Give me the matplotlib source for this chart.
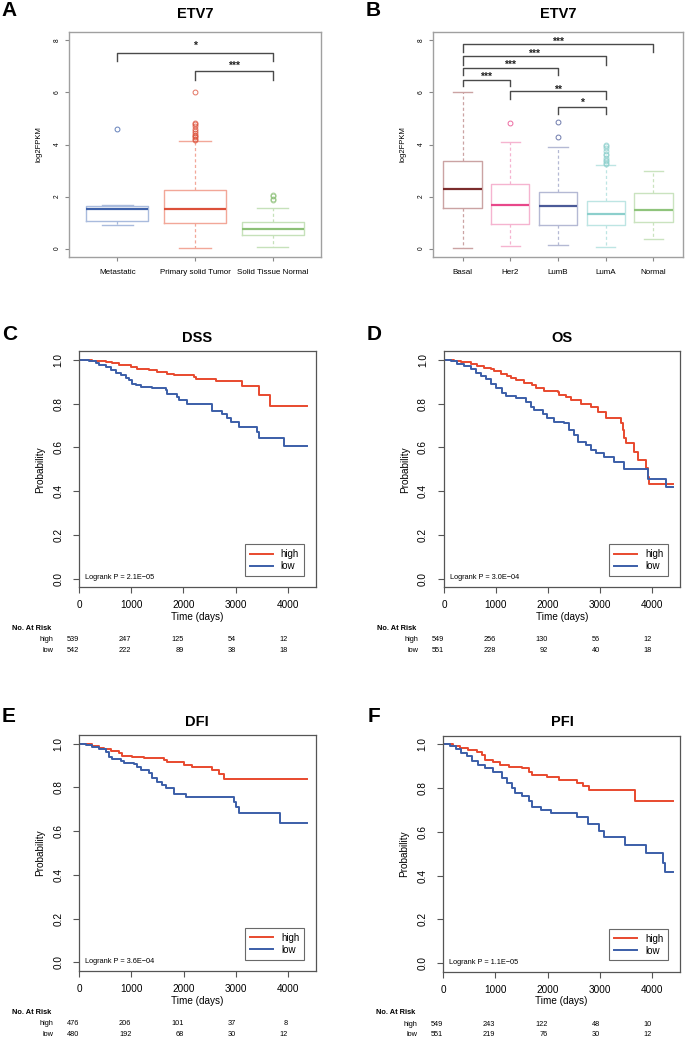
import matplotlib
matplotlib.use('Agg')
import matplotlib.pyplot as plt
from matplotlib.lines import Line2D
from matplotlib.transforms import blended_transform_factory

plt.rcParams['font.family'] = ['Liberation Sans', 'DejaVu Sans']

W, H = 685, 1038
fig = plt.figure(figsize=(W / 100, H / 100), dpi=100)

# ---------------- data: boxplots ----------------
a_groups = ['Metastatic', 'Primary solid Tumor', 'Solid Tissue Normal']
a_q1 = [1.05, 0.98, 0.53]
a_med = [1.52, 1.52, 0.77]
a_q3 = [1.62, 2.25, 1.03]
a_lo = [0.90, 0.03, 0.07]
a_hi = [1.67, 4.15, 1.58]
a_out = [[4.58],
         [4.18, 4.22, 4.27, 4.32, 4.38, 4.45, 4.52, 4.60, 4.70, 4.78, 4.83, 6.02],
         [1.85, 1.92, 2.02, 2.08]]
a_edge = ['#a9bbdd', '#f2a798', '#c6e1ba']
a_medc = ['#3f62aa', '#dc5039', '#8cc077']
# brackets: (from, to, top, tip, label, label y)
a_brackets = [(1, 3, 7.53, 7.19, '*', 7.90),
              (2, 3, 6.82, 6.47, '***', 7.14)]

b_groups = ['Basal', 'Her2', 'LumB', 'LumA', 'Normal']
b_q1 = [1.57, 0.95, 0.92, 0.92, 1.03]
b_med = [2.28, 1.68, 1.62, 1.32, 1.50]
b_q3 = [3.38, 2.48, 2.18, 1.83, 2.15]
b_lo = [0.03, 0.12, 0.13, 0.05, 0.38]
b_hi = [6.03, 4.08, 3.92, 3.20, 2.97]
b_out = [[], [4.82], [4.27, 4.85],
         [3.25, 3.30, 3.35, 3.42, 3.50, 3.58, 3.65, 3.75, 3.85, 3.95, 4.00],
         []]
b_edge = ['#cba3a3', '#f5b4d0', '#b4b9d4', '#bde5e3', '#cae3bf']
b_medc = ['#7b2c2c', '#e8478a', '#4b5a98', '#8ccfcc', '#8fc47c']
b_brackets = [(1, 5, 7.87, 7.55, '***', 8.06),
              (1, 4, 7.39, 7.07, '***', 7.60),
              (1, 3, 6.92, 6.68, '***', 7.17),
              (1, 2, 6.49, 6.23, '***', 6.72),
              (2, 4, 6.04, 5.75, '**', 6.22),
              (3, 4, 5.44, 5.18, '*', 5.72)]

# ---------------- data: Kaplan-Meier ----------------
c_high_t = [0, 250, 505, 633, 761, 985, 1113, 1337, 1497, 1689, 1817, 2201, 2233, 2617, 3129, 3449, 3653]
c_high_s = [1.0, 0.995, 0.99, 0.985, 0.979, 0.968, 0.957, 0.953, 0.945, 0.938, 0.93, 0.922, 0.915, 0.903, 0.881, 0.842, 0.79]
c_low_t = [0, 186, 313, 377, 505, 601, 697, 793, 889, 953, 1017, 1081, 1177, 1401, 1657, 1689, 1881, 1913,
           2073, 2553, 2745, 2841, 2905, 3065, 3417, 3449, 3929]
c_low_s = [1.0, 0.995, 0.986, 0.976, 0.968, 0.953, 0.942, 0.933, 0.918, 0.907, 0.892, 0.884, 0.877, 0.872, 0.862,
           0.843, 0.831, 0.816, 0.798, 0.765, 0.752, 0.733, 0.715, 0.695, 0.672, 0.641, 0.608]
c_end = 4376

d_high_t = [0, 193, 321, 514, 642, 771, 899, 963, 1092, 1220, 1285, 1381, 1541, 1702, 1766, 1927, 2184, 2216, 2344,
            2441, 2633, 2826, 2954, 3115, 3404, 3436, 3468, 3500, 3661, 3725, 3886, 3931, 3950]
d_high_s = [1.0, 0.995, 0.991, 0.983, 0.973, 0.965, 0.957, 0.948, 0.938, 0.927, 0.918, 0.909, 0.897, 0.885, 0.872,
            0.857, 0.854, 0.842, 0.831, 0.816, 0.798, 0.786, 0.763, 0.733, 0.71, 0.679, 0.641, 0.619, 0.581, 0.543,
            0.505, 0.467, 0.432]
d_low_t = [0, 128, 257, 385, 514, 610, 706, 803, 899, 995, 1124, 1188, 1381, 1574, 1670, 1734, 1895, 1991, 2119,
           2312, 2408, 2505, 2569, 2730, 2826, 2922, 3083, 3276, 3468, 3931, 4271]
d_low_s = [1.0, 0.994, 0.983, 0.973, 0.957, 0.942, 0.927, 0.912, 0.892, 0.872, 0.847, 0.836, 0.824, 0.809, 0.786,
           0.771, 0.755, 0.733, 0.717, 0.71, 0.679, 0.657, 0.626, 0.611, 0.588, 0.573, 0.558, 0.535, 0.502, 0.454,
           0.421]
d_end = 4399

e_high_t = [0, 122, 250, 377, 474, 601, 761, 825, 1017, 1241, 1625, 1689, 2009, 2169, 2553, 2681, 2777]
e_high_s = [1.0, 0.997, 0.989, 0.982, 0.974, 0.968, 0.959, 0.944, 0.941, 0.936, 0.925, 0.915, 0.905, 0.892, 0.88,
            0.861, 0.84]
e_low_t = [0, 122, 250, 377, 505, 569, 633, 793, 857, 1049, 1113, 1177, 1337, 1401, 1497, 1593, 1657, 1817, 2041,
           2969, 3001, 3065, 3853]
e_low_s = [1.0, 0.994, 0.983, 0.974, 0.963, 0.941, 0.928, 0.922, 0.913, 0.907, 0.895, 0.88, 0.864, 0.841, 0.826,
           0.811, 0.796, 0.77, 0.758, 0.735, 0.709, 0.681, 0.636]
e_end = 4376

f_high_t = [0, 187, 316, 477, 639, 735, 800, 961, 1090, 1252, 1510, 1639, 1703, 1994, 2219, 2574, 2671, 2800, 3671]
f_high_s = [1.0, 0.991, 0.982, 0.973, 0.965, 0.953, 0.927, 0.918, 0.907, 0.896, 0.892, 0.876, 0.861, 0.853, 0.838,
            0.823, 0.808, 0.792, 0.739]
f_low_t = [0, 123, 252, 348, 445, 542, 671, 800, 961, 1123, 1219, 1316, 1381, 1510, 1639, 1703, 1865, 2058, 2574,
           2768, 2994, 3090, 3477, 3884, 4219, 4252]
f_low_s = [1.0, 0.994, 0.979, 0.963, 0.948, 0.922, 0.907, 0.892, 0.876, 0.846, 0.823, 0.8, 0.777, 0.762, 0.739,
           0.716, 0.701, 0.685, 0.67, 0.637, 0.606, 0.576, 0.54, 0.502, 0.456, 0.414]
f_end = 4400

risk_times = [0, 1000, 2000, 3000, 4000]
c_risk_high = [539, 247, 125, 54, 12]
c_risk_low = [542, 222, 89, 38, 18]
d_risk_high = [549, 256, 130, 56, 12]
d_risk_low = [551, 228, 92, 40, 18]
e_risk_high = [476, 206, 101, 37, 8]
e_risk_low = [480, 192, 68, 30, 12]
f_risk_high = [549, 243, 122, 48, 10]
f_risk_low = [551, 219, 76, 30, 12]

RED = '#e8492e'
BLUE = '#3b5ea8'


def px_axes(x0, y0, x1, y1):
    return fig.add_axes([x0 / W, 1 - y1 / H, (x1 - x0) / W, (y1 - y0) / H])


def px_text(x, y, s, **kw):
    fig.text(x / W, 1 - y / H, s, **kw)


def boxpanel(ax, groups, q1, med, q3, lo, hi, out, edge, medc, brackets):
    for i in range(len(groups)):
        st = dict(med=med[i], q1=q1[i], q3=q3[i], whislo=lo[i], whishi=hi[i], fliers=out[i])
        ax.bxp([st], positions=[i + 1], widths=0.8, capwidths=0.4, showfliers=True,
               boxprops=dict(color=edge[i], lw=1.0),
               medianprops=dict(color=medc[i], lw=1.6),
               whiskerprops=dict(color=edge[i], lw=0.9, ls=(0, (2.5, 2))),
               capprops=dict(color=edge[i], lw=1.0),
               flierprops=dict(marker='o', markersize=3.5, markerfacecolor='none',
                               markeredgecolor=medc[i], alpha=0.8, markeredgewidth=0.7))
    for (i, j, top, tip, lab, ly) in brackets:
        ax.plot([i, i, j, j], [tip, top, top, tip], color='#4a4a4a', lw=1.0)
        ax.text((i + j) / 2, ly - 0.24, lab, ha='center', va='baseline', fontsize=7.5,
                fontweight='bold', color='#222222')
    ax.set_xlim(0.38, len(groups) + 0.62)
    ax.set_ylim(-0.32, 8.32)
    ax.set_xticks(range(1, len(groups) + 1))
    ax.set_xticklabels(groups, fontsize=5.8)
    ax.set_yticks([0, 2, 4, 6, 8])
    ax.set_yticklabels(['0', '2', '4', '6', '8'], fontsize=4.8, rotation=90, va='center')
    ax.tick_params(axis='x', length=3, pad=6, color='#888888', width=0.8)
    ax.tick_params(axis='y', length=3, pad=3, color='#888888', width=0.8)
    ax.set_ylabel('log2FPKM', fontsize=5.5, labelpad=8)
    for s in ax.spines.values():
        s.set_color('#a0a0a0')
        s.set_linewidth(1.0)


def kmpanel(ax, ht, hs, lt, ls, end, rh, rl, pval):
    ax.step(ht + [end], hs + [hs[-1]], where='post', color=RED, lw=1.4)
    ax.step(lt + [end], ls + [ls[-1]], where='post', color=BLUE, lw=1.4)
    ax.set_xlim(0, 4540)
    ax.set_ylim(-0.04, 1.04)
    ax.set_xticks(risk_times)
    ax.set_yticks([0, 0.2, 0.4, 0.6, 0.8, 1.0])
    ax.set_yticklabels(['0.0', '0.2', '0.4', '0.6', '0.8', '1.0'], rotation=90, va='center')
    ax.tick_params(axis='both', labelsize=7.2, length=4.5, width=0.8, color='#555555')
    ax.tick_params(axis='x', pad=5)
    ax.tick_params(axis='y', pad=7)
    ax.set_xlabel('Time (days)', fontsize=7.2, labelpad=1)
    ax.set_ylabel('Probability', fontsize=7.2, labelpad=6)
    for s in ax.spines.values():
        s.set_color('#555555')
        s.set_linewidth(0.9)
    handles = [Line2D([], [], color=RED, lw=1.4), Line2D([], [], color=BLUE, lw=1.4)]
    leg = ax.legend(handles, ['high', 'low'], loc='lower right', bbox_to_anchor=(0.95, 0.048),
                    borderaxespad=0, fontsize=7, fancybox=False, handlelength=2.4,
                    handletextpad=0.8, borderpad=0.5, labelspacing=0.2)
    leg.get_frame().set_edgecolor('#444444')
    leg.get_frame().set_linewidth(0.8)
    ax.text(0.025, 0.04, 'Logrank P = ' + pval, transform=ax.transAxes, fontsize=5.3, va='center')
    tr = blended_transform_factory(ax.transData, ax.transAxes)
    tra = ax.transAxes
    ax.text(-0.286, -0.174, 'No. At Risk', transform=tra, fontsize=5.3, fontweight='bold', va='center')
    ax.text(-0.11, -0.222, 'high', transform=tra, fontsize=5.3, ha='right', va='center')
    ax.text(-0.11, -0.267, 'low', transform=tra, fontsize=5.3, ha='right', va='center')
    for t, h, l in zip(risk_times, rh, rl):
        ax.text(t, -0.222, str(h), transform=tr, fontsize=5.3, ha='right', va='center')
        ax.text(t, -0.267, str(l), transform=tr, fontsize=5.3, ha='right', va='center')


# panel A
axA = px_axes(69, 32, 321, 257)
boxpanel(axA, a_groups, a_q1, a_med, a_q3, a_lo, a_hi, a_out, a_edge, a_medc, a_brackets)
px_text(195, 14, 'ETV7', ha='center', va='center', fontsize=10.5, fontweight='bold')
px_text(1, 10, 'A', ha='left', va='center', fontsize=15, fontweight='bold')

# panel B
axB = px_axes(433, 32, 683, 257)
boxpanel(axB, b_groups, b_q1, b_med, b_q3, b_lo, b_hi, b_out, b_edge, b_medc, b_brackets)
px_text(558, 14, 'ETV7', ha='center', va='center', fontsize=10.5, fontweight='bold')
px_text(366, 10, 'B', ha='left', va='center', fontsize=15, fontweight='bold')

# panel C
axC = px_axes(79.3, 351.3, 315.7, 587.3)
kmpanel(axC, c_high_t, c_high_s, c_low_t, c_low_s, c_end, c_risk_high, c_risk_low, '2.1E\u221205')
px_text(197, 338, 'DSS', ha='center', va='center', fontsize=10.5, fontweight='bold')
px_text(2, 335, 'C', ha='left', va='center', fontsize=15, fontweight='bold')

# panel D
axD = px_axes(444, 351.3, 680, 587.3)
kmpanel(axD, d_high_t, d_high_s, d_low_t, d_low_s, d_end, d_risk_high, d_risk_low, '3.0E\u221204')
px_text(562, 338, 'OS', ha='center', va='center', fontsize=10.5, fontweight='bold')
px_text(367, 335, 'D', ha='left', va='center', fontsize=15, fontweight='bold')

# panel E
axE = px_axes(79.3, 735, 316, 971)
kmpanel(axE, e_high_t, e_high_s, e_low_t, e_low_s, e_end, e_risk_high, e_risk_low, '3.6E\u221204')
px_text(197, 722, 'DFI', ha='center', va='center', fontsize=10.5, fontweight='bold')
px_text(2, 716, 'E', ha='left', va='center', fontsize=15, fontweight='bold')

# panel F
axF = px_axes(443.3, 735.7, 680, 971.7)
kmpanel(axF, f_high_t, f_high_s, f_low_t, f_low_s, f_end, f_risk_high, f_risk_low, '1.1E\u221205')
px_text(562, 722, 'PFI', ha='center', va='center', fontsize=10.5, fontweight='bold')
px_text(368, 716, 'F', ha='left', va='center', fontsize=15, fontweight='bold')

fig.savefig('out.png', dpi=100)
